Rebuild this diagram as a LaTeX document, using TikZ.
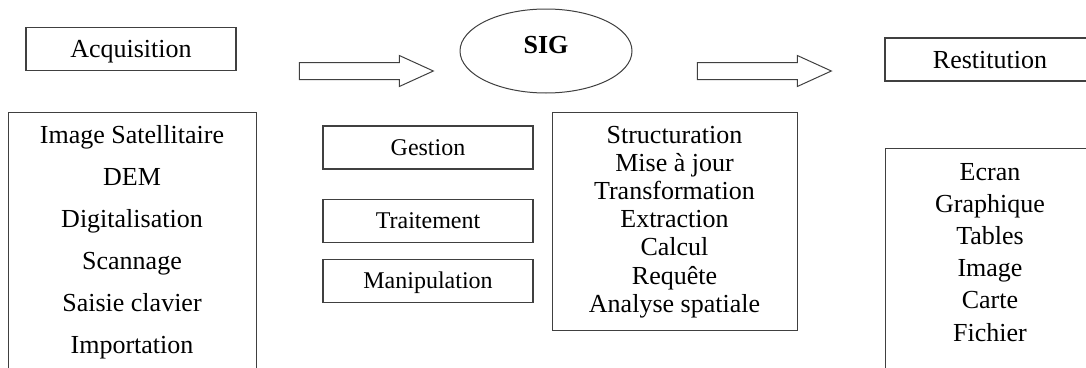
\documentclass[tikz,border=0pt]{standalone}
\usepackage{fontspec}
\setmainfont{Liberation Serif}
\usetikzlibrary{shapes,positioning,calc}
\tikzset{
    box/.style={
        rectangle,
        draw=black!75,
        line width=1.1pt,
        minimum width=210pt,
        minimum height=43pt,
        inner sep=0pt,
        text height=17pt,
        text depth=0pt,
        font=\fontsize{26}{30}\selectfont
    },
    smallbox/.style={
        box,
        text height=15.8pt,
        font=\fontsize{24}{28}\selectfont
    },
    listbox/.style={
        rectangle,
        draw=black!75,
        line width=1.1pt,
        anchor=north west,
        inner sep=0pt
    },
    item/.style={
        anchor=base,
        inner sep=0pt,
        font=\fontsize{26}{30}\selectfont
    },
    bigarrow/.style={
        single arrow,
        draw=black!75,
        line width=1pt,
        minimum height=134pt,
        inner sep=8pt,
        single arrow head extend=7pt,
        single arrow tip angle=49
    },
}

\begin{document}
\begin{tikzpicture}[x=1pt,y=-1pt]

       \clip (0,0) rectangle (1086,367);

       % Acquisition
       \node[box] (acq) at (131,49) {Acquisition};
       \node[listbox, minimum width=248pt, minimum height=300pt] (acqlist) at (8,112) {};
       \foreach \t [count=\i from 0] in {Image Satellitaire, DEM, Digitalisation, Scannage, Saisie clavier, Importation}
           \node[item] (acq-\i) at (132,{143+42*\i}) {\t};

       \node[bigarrow] (arr1) at (357,71) {};

       % SIG
       \node[ellipse, draw=black!75, line width=1pt, minimum width=172pt, minimum height=84pt, inner sep=0pt] (sig) at (546,51) {};
       \node[inner sep=0pt, text height=17pt, text depth=0pt, font=\bfseries\fontsize{26}{30}\selectfont] (sig-label) at ([yshift=6pt]sig.center) {SIG};

       \node[smallbox] (gestion) at (428,147.5) {Gestion};
       \node[smallbox, below=29pt of gestion] (traitement) {Traitement};
       \node[smallbox, below=16pt of traitement] (manip) {Manipulation};

       \node[listbox, minimum width=245pt, minimum height=218pt] (siglist) at (552,112) {};
       \foreach \t [count=\i from 0] in {Structuration, Mise à jour, Transformation, Extraction, Calcul, Requête, Analyse spatiale}
           \node[item] (sig-\i) at (674.5,{143+28.2*\i}) {\t};

       \node[bigarrow] (arr2) at (755,71) {};

       % Restitution
       \node[box] (rest) at (990,59.5) {Restitution};
       \node[listbox, minimum width=225pt, minimum height=260pt] (restlist) at (885,148) {};
       \foreach \t [count=\i from 0] in {Ecran, Graphique, Tables, Image, Carte, Fichier}
           \node[item] (rest-\i) at (990,{180+32.2*\i}) {\t};

\end{tikzpicture}
\end{document}
